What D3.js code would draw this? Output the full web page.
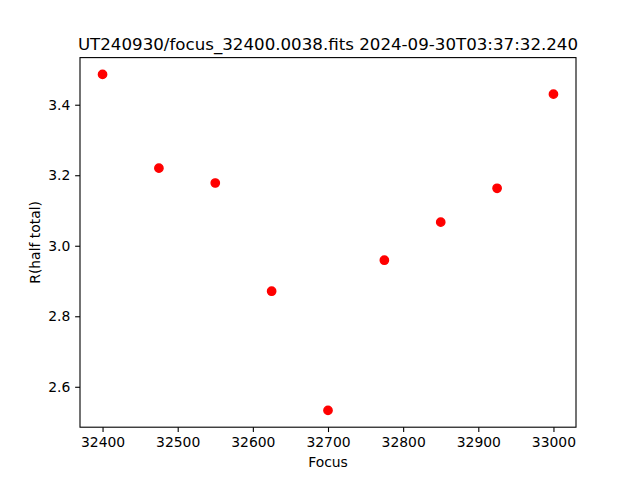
<!DOCTYPE html>
<html>
<head>
<meta charset="utf-8">
<script src="https://cdn.jsdelivr.net/npm/d3@7"></script>
<style>
html,body{margin:0;padding:0;background:#fff;}
svg{display:block;}
text{font-family:"DejaVu Sans",sans-serif;fill:#000;}
</style>
</head>
<body>
<svg id="chart" width="640" height="480"></svg>
<script>
const focusValues = [32400, 32475, 32550, 32625, 32700, 32775, 32850, 32925, 33000];
const radiusValues = [3.486, 3.220, 3.178, 2.871, 2.533, 2.959, 3.067, 3.163, 3.430];
const xTicks = [32400, 32500, 32600, 32700, 32800, 32900, 33000];
const yTicks = [2.6, 2.8, 3.0, 3.2, 3.4];
const titleText = "UT240930/focus_32400.0038.fits 2024-09-30T03:37:32.240";
const xLabel = "Focus";
const yLabel = "R(half total)";

(function(){
const svg = d3.select("#chart");
const pl = 80, pr = 576, pt = 57.6, pb = 427.2;

function padded(ext){ const r = ext[1]-ext[0]; return [ext[0]-0.05*r, ext[1]+0.05*r]; }
const x = d3.scaleLinear().domain(padded(d3.extent(focusValues))).range([pl, pr]);
const y = d3.scaleLinear().domain(padded(d3.extent(radiusValues))).range([pb, pt]);

const tickLen = 4.86, tickPad = 4.86;

const xAxis = svg.append("g").attr("transform", `translate(0,${pb})`)
  .call(d3.axisBottom(x).tickValues(xTicks).tickFormat(d3.format("d")).tickSizeInner(tickLen).tickSizeOuter(0).tickPadding(tickPad));
xAxis.select(".domain").remove();
xAxis.selectAll(".tick line").attr("stroke", "#000").attr("stroke-width", 1.1);
xAxis.selectAll(".tick text").attr("font-size", "13.9px").attr("font-family", "DejaVu Sans").attr("fill","#000");

const yAxis = svg.append("g").attr("transform", `translate(${pl},0)`)
  .call(d3.axisLeft(y).tickValues(yTicks).tickFormat(d3.format(".1f")).tickSizeInner(tickLen).tickSizeOuter(0).tickPadding(tickPad));
yAxis.select(".domain").remove();
yAxis.selectAll(".tick line").attr("stroke", "#000").attr("stroke-width", 1.1);
yAxis.selectAll(".tick text").attr("font-size", "13.9px").attr("font-family", "DejaVu Sans").attr("fill","#000");

svg.append("g").selectAll("circle").data(focusValues).join("circle")
  .attr("cx", d => x(d))
  .attr("cy", (d,i) => y(radiusValues[i]))
  .attr("r", 4.17)
  .attr("fill", "#ff0000")
  .attr("stroke", "#ff0000")
  .attr("stroke-width", 1.39);

svg.append("rect").attr("x", pl).attr("y", pt).attr("width", pr-pl).attr("height", pb-pt)
  .attr("fill", "none").attr("stroke", "#000").attr("stroke-width", 1.1);

svg.append("text").attr("x", (pl+pr)/2).attr("y", 49.5).attr("text-anchor","middle")
  .attr("font-size","16.67px").text(titleText);

svg.append("text").attr("x", (pl+pr)/2).attr("y", 467).attr("text-anchor","middle")
  .attr("font-size","13.9px").text(xLabel);

svg.append("text").attr("transform", `translate(39.5,${(pt+pb)/2}) rotate(-90)`).attr("text-anchor","middle")
  .attr("font-size","13.9px").text(yLabel);
})();
</script>
</body>
</html>
